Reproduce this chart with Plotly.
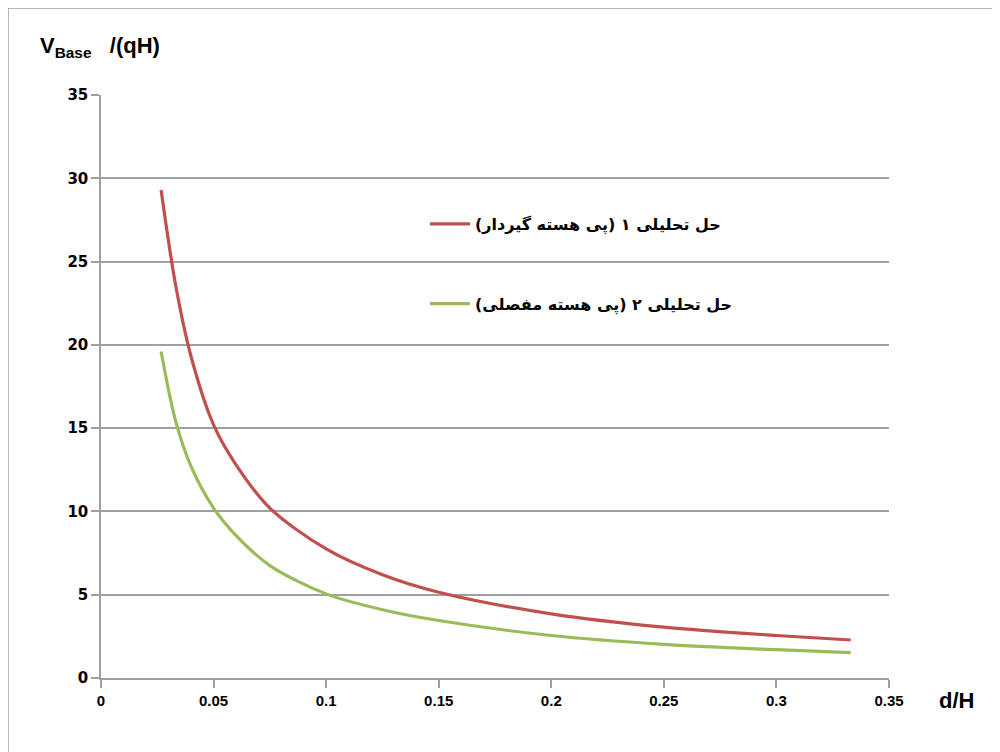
import plotly.graph_objects as go

# d/H values
x_vals = [0.0267, 0.033, 0.04, 0.05, 0.06, 0.075, 0.1, 0.125, 0.15, 0.2, 0.25, 0.3, 0.333]
# analytical solution 1 (fixed-core footing)
red_vals = [29.3, 23.7, 19.3, 15.2, 12.8, 10.2, 7.75, 6.2, 5.15, 3.85, 3.05, 2.55, 2.28]
# analytical solution 2 (hinged-core footing)
green_vals = [19.6, 15.5, 12.7, 10.2, 8.55, 6.75, 5.05, 4.1, 3.45, 2.55, 2.02, 1.7, 1.52]

series_names = ["حل تحلیلی ۱ (پی هسته گیردار)", "حل تحلیلی ۲ (پی هسته مفصلی)"]
x_ticks = [0, 0.05, 0.1, 0.15, 0.2, 0.25, 0.3, 0.35]
x_ticklabels = ["0", "0.05", "0.1", "0.15", "0.2", "0.25", "0.3", "0.35"]
y_ticks = [0, 5, 10, 15, 20, 25, 30, 35]

narrow = "Liberation Sans Narrow, Arial Narrow, Liberation Sans, Arial"

# page body adds an 8px offset; plot area on screen: x 101..889, y 95..678
OFF = 8
L, R, T, B = 101, 889, 95, 678
W = R - L
H = B - T

fig = go.Figure()
fig.add_trace(go.Scatter(x=x_vals, y=red_vals, mode="lines", name=series_names[0],
                         line=dict(color="#c0504d", width=3.2, shape="spline", smoothing=0.9),
                         legendgroup="a"))
fig.add_trace(go.Scatter(x=x_vals, y=green_vals, mode="lines", name=series_names[1],
                         line=dict(color="#9bbb59", width=3.2, shape="spline", smoothing=0.9),
                         legendgroup="b"))

fig.update_layout(
    width=1000, height=752,
    margin=dict(l=L - OFF, r=1000 - (R - OFF), t=T - OFF, b=752 - (B - OFF)),
    paper_bgcolor="white", plot_bgcolor="white",
    showlegend=True,
    legend=dict(x=(425 - L) / W, y=(B - 207) / H, xanchor="left", yanchor="top",
                font=dict(family="DejaVu Sans", size=16, color="black", weight="bold"),
                tracegroupgap=56, itemwidth=40, bgcolor="rgba(0,0,0,0)"),
    xaxis=dict(range=[0, 0.35], tickvals=x_ticks, ticktext=x_ticklabels,
               showgrid=False, zeroline=False, showline=True, linecolor="#a0a0a0", linewidth=1.5,
               ticks="outside", ticklen=8, tickcolor="#a0a0a0", tickwidth=1.5,
               tickfont=dict(family=narrow, size=15, color="black", weight="bold")),
    yaxis=dict(range=[0, 35], tickvals=y_ticks,
               showgrid=True, gridcolor="#a0a0a0", gridwidth=1.5, zeroline=False,
               showline=True, linecolor="#a0a0a0", linewidth=1.5,
               ticks="outside", ticklen=8, tickcolor="#a0a0a0", tickwidth=1.5,
               tickfont=dict(family="DejaVu Sans", size=15, color="black", weight="bold")),
    annotations=[
        dict(text="V<sub>Base</sub>   /(qH)", xref="paper", yref="paper",
             x=(38 - L) / W, y=(B - 47) / H, xanchor="left", yanchor="middle",
             showarrow=False, font=dict(family=narrow, size=22, color="black", weight="bold")),
        dict(text="d/H", xref="paper", yref="paper",
             x=(937 - L) / W, y=(B - 700) / H, xanchor="left", yanchor="middle",
             showarrow=False, font=dict(family=narrow, size=22, color="black", weight="bold")),
    ],
    shapes=[
        dict(type="rect", xref="paper", yref="paper",
             x0=(8 - L) / W, x1=(1010 - L) / W,
             y0=(B - 770) / H, y1=(B - 8) / H,
             line=dict(color="#a0a0a0", width=1.5), fillcolor="rgba(0,0,0,0)", layer="below"),
    ],
)

fig.write_html("out.html")
